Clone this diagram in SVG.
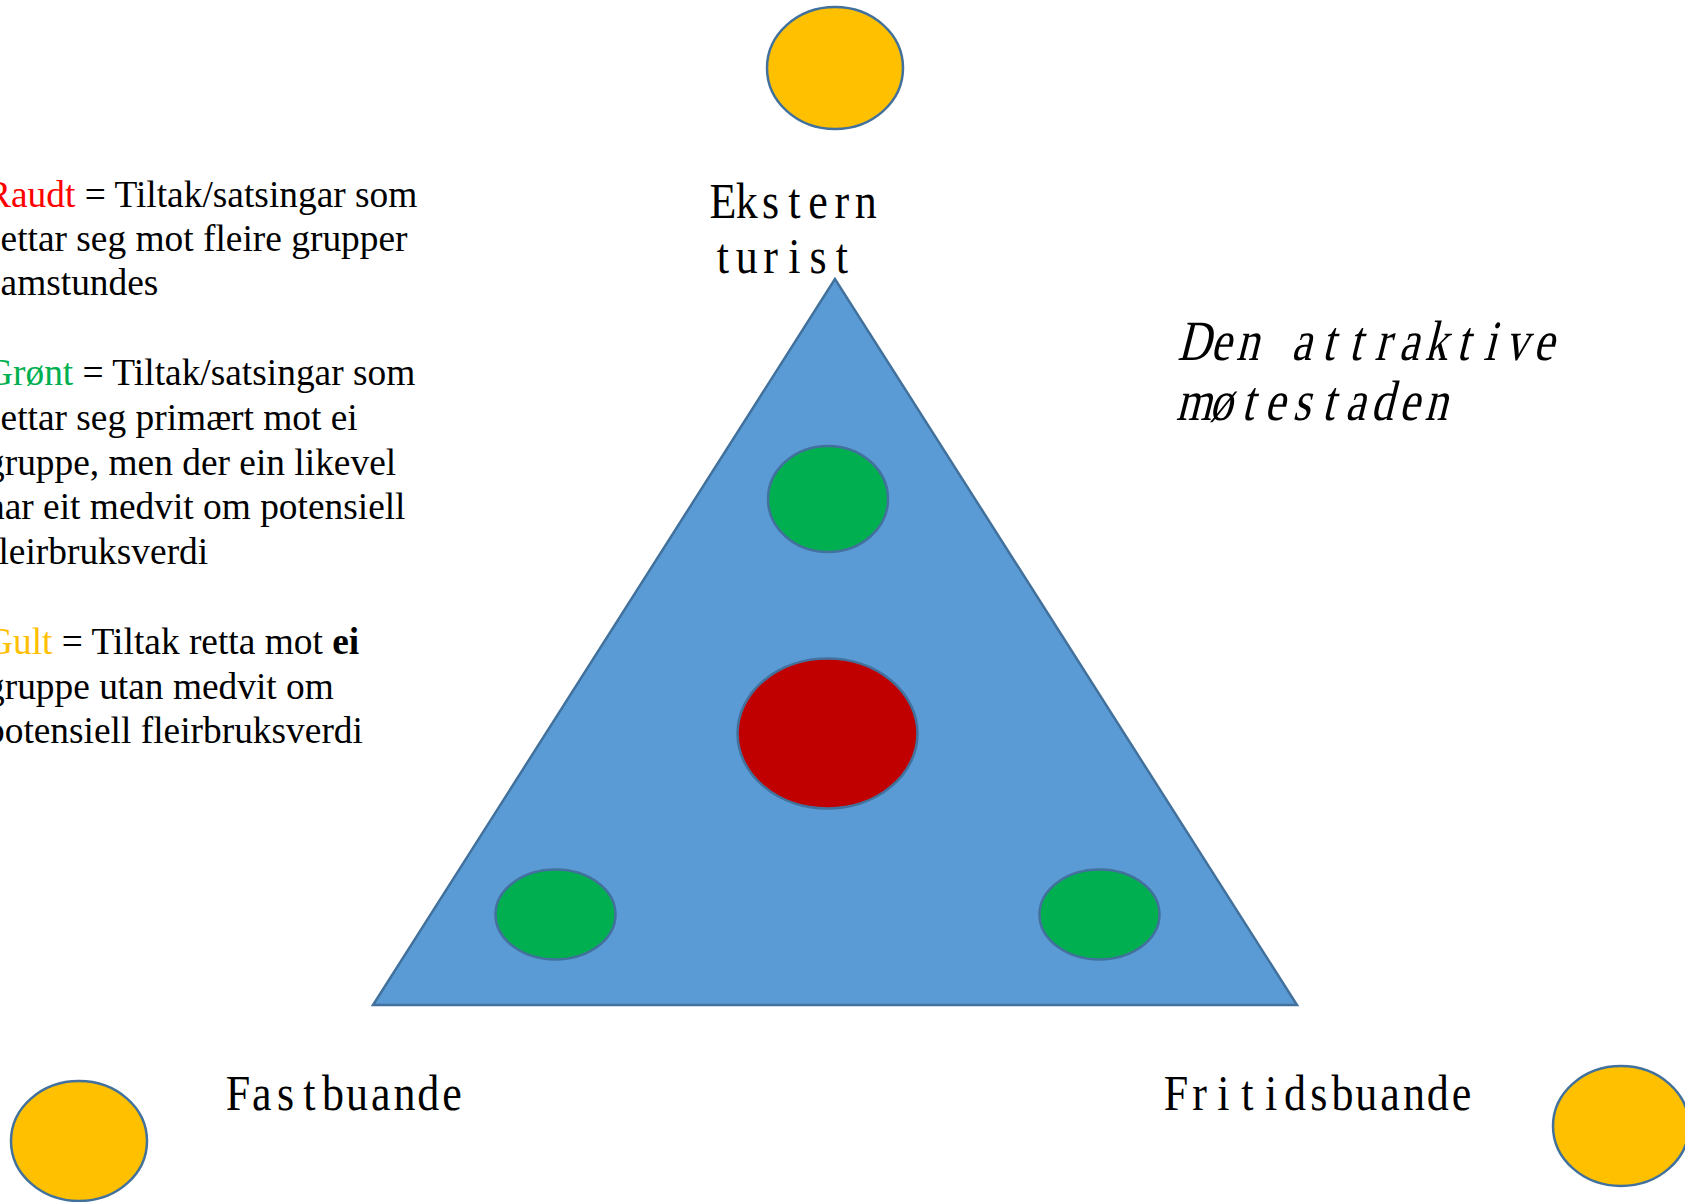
<svg xmlns="http://www.w3.org/2000/svg" width="1685" height="1202" viewBox="0 0 1685 1202">
<style>
.shape{stroke:#41719C;stroke-width:2.5}
.yellow{fill:#FFC000}
.green{fill:#00B050}
.red{fill:#C00000}
.tri{fill:#5B9BD5}
.lbl{font-family:"Liberation Serif","Times New Roman",serif;font-size:50px;fill:#000;text-anchor:middle}
.lbl-big{font-size:57px}
.legend{font-family:"Liberation Serif","Times New Roman",serif;font-size:37.4px;fill:#000}
</style>
<rect width="1685" height="1202" fill="#fff"/>
<g id="triangle"><polygon class="shape tri" points="835,279 373,1005 1297,1005"/></g>
<g id="yellow-top"><ellipse class="shape yellow" cx="835" cy="68" rx="68" ry="61"/></g>
<g id="green-top"><ellipse class="shape green" cx="828" cy="499" rx="60" ry="53"/></g>
<g id="red-center"><ellipse class="shape red" cx="827.5" cy="733.5" rx="90" ry="75"/></g>
<g id="green-left"><ellipse class="shape green" cx="555.5" cy="914.5" rx="60" ry="45"/></g>
<g id="green-right"><ellipse class="shape green" cx="1099.5" cy="914.5" rx="60" ry="45"/></g>
<g id="yellow-left"><ellipse class="shape yellow" cx="79" cy="1141" rx="68" ry="60"/></g>
<g id="yellow-right"><ellipse class="shape yellow" cx="1621" cy="1126" rx="68" ry="60"/></g>
<g id="connectors"></g>
<g id="label-ekstern">
<text class="lbl" transform="translate(711,218) scale(0.88,1)" x="13.52 40.57 67.61 94.66 121.70 148.75 175.80" y="0">Ekstern</text>
<text class="lbl" transform="translate(711,273) scale(0.88,1)" x="13.52 40.57 67.61 94.66 121.70 148.75" y="0">turist</text>
</g>
<g id="label-motestaden">
<text class="lbl lbl-big" transform="translate(1180,360) skewX(-14) scale(0.8,1)" x="16.81 50.44 84.06 117.69 151.31 184.94 218.56 252.19 285.81 319.44 353.06 386.69 420.31 453.94" y="0">Den attraktive</text>
<text class="lbl lbl-big" transform="translate(1180,420) skewX(-14) scale(0.8,1)" x="16.81 50.44 84.06 117.69 151.31 184.94 218.56 252.19 285.81 319.44" y="0">møtestaden</text>
</g>
<g id="label-fastbuande"><text class="lbl" transform="translate(226,1110) scale(0.88,1)" x="13.52 40.57 67.61 94.66 121.70 148.75 175.80 202.84 229.89 256.93" y="0">Fastbuande</text></g>
<g id="label-fritidsbuande"><text class="lbl" transform="translate(1164,1110) scale(0.88,1)" x="13.52 40.57 67.61 94.66 121.70 148.75 175.80 202.84 229.89 256.93 283.98 311.02 338.07" y="0">Fritidsbuande</text></g>
<g id="legend">
<text class="legend" x="-14" y="207"><tspan fill="#FF0000">Raudt</tspan> = Tiltak/satsingar som</text>
<text class="legend" x="-14" y="251">settar seg mot fleire grupper</text>
<text class="legend" x="-14" y="295">samstundes</text>
<text class="legend" x="-14" y="385"><tspan fill="#00B050">Grønt</tspan> = Tiltak/satsingar som</text>
<text class="legend" x="-14" y="430">settar seg primært mot ei</text>
<text class="legend" x="-14" y="475">gruppe, men der ein likevel</text>
<text class="legend" x="-14" y="519">har eit medvit om potensiell</text>
<text class="legend" x="-14" y="564">fleirbruksverdi</text>
<text class="legend" x="-14" y="654"><tspan fill="#FFC000">Gult</tspan> = Tiltak retta mot <tspan font-weight="bold">ei</tspan></text>
<text class="legend" x="-14" y="699">gruppe utan medvit om</text>
<text class="legend" x="-14" y="743">potensiell fleirbruksverdi</text>
</g>
</svg>
